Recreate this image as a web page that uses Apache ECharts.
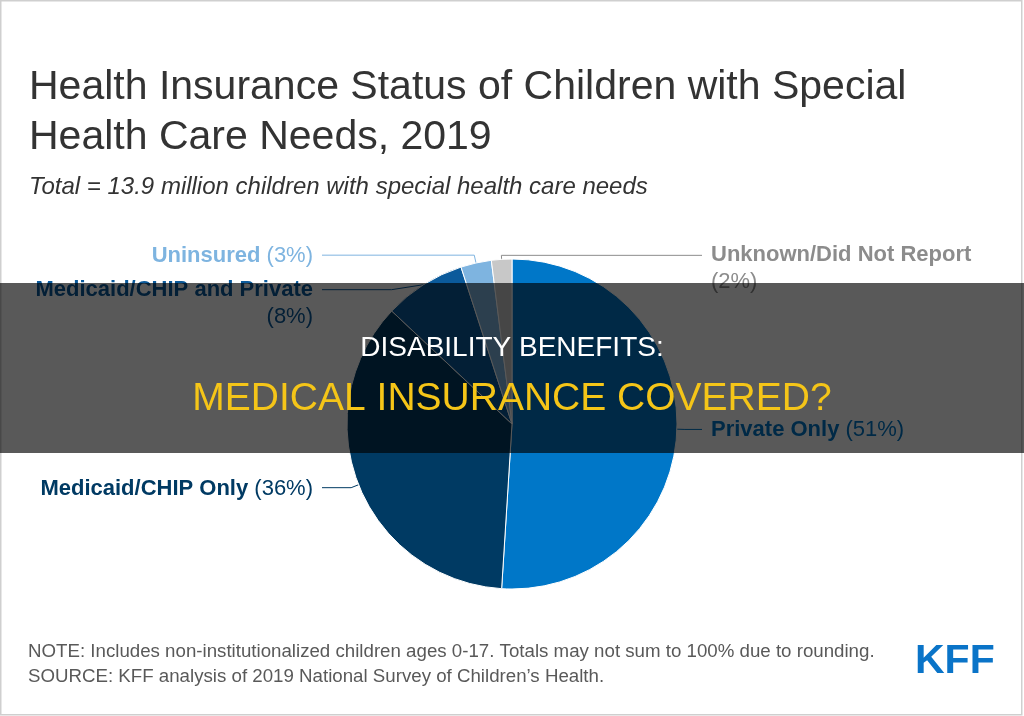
<!DOCTYPE html>
<html>
<head>
<meta charset="utf-8">
<title>Health Insurance Status of Children with Special Health Care Needs, 2019</title>
<script src="https://cdn.jsdelivr.net/npm/echarts/dist/echarts.min.js"></script>
<style>
  html, body { margin: 0; padding: 0; background: #fff; }
  #main { width: 1024px; height: 716px; }
</style>
</head>
<body>
<div id="main"></div>
<script>
// chart data
var categories = ['Private Only', 'Medicaid/CHIP Only', 'Medicaid/CHIP and Private', 'Uninsured', 'Unknown/Did Not Report'];
var shares = [51, 36, 8, 3, 2];
var sliceColors = ['#0077c8', '#003a63', '#0b5a9b', '#7eb4e0', '#c8c8c8'];
var labelColors = ['#0077c8', '#003a63', '#0b5a9b', '#7eb4e0', '#8c8c8c'];

// label placement rules
var rightSide = ['Private Only', 'Unknown/Did Not Report'];
var twoLine = ['Medicaid/CHIP and Private', 'Unknown/Did Not Report'];

var FONT = '"Liberation Sans", Arial, sans-serif';
var CX = 512, CY = 424, R = 165;
var LINE_GAP = 25, TEXT_GAP = 9, LH = 27;

var rich = {};
labelColors.forEach(function (c, i) {
    rich['c' + i + 'b'] = { color: c, fontWeight: 'bold', fontSize: 22, lineHeight: LH, fontFamily: FONT };
    rich['c' + i] = { color: c, fontSize: 22, lineHeight: LH, fontFamily: FONT };
});

var pieData = categories.map(function (name, i) {
    return {
        name: name,
        value: shares[i],
        itemStyle: { color: sliceColors[i] },
        labelLine: {
            length: name === 'Unknown/Did Not Report' ? 4 : 8,
            lineStyle: { color: labelColors[i] }
        }
    };
});

var myChart = echarts.init(document.getElementById('main'), null, { renderer: 'canvas' });

var option = {
    animation: false,
    backgroundColor: '#fff',
    title: {
        text: 'Health Insurance Status of Children with Special\nHealth Care Needs, 2019',
        subtext: 'Total = 13.9 million children with special health care needs',
        left: 29,
        top: 63,
        padding: 0,
        itemGap: 10,
        textStyle: { fontFamily: FONT, fontSize: 41, fontWeight: 'normal', color: '#333', lineHeight: 50 },
        subtextStyle: { fontFamily: FONT, fontSize: 24, fontStyle: 'italic', color: '#333', lineHeight: 28 }
    },
    series: [{
        type: 'pie',
        center: [CX, CY],
        radius: R,
        startAngle: 90,
        clockwise: true,
        silent: true,
        avoidLabelOverlap: false,
        minShowLabelAngle: 0,
        itemStyle: { borderColor: '#fff', borderWidth: 1 },
        label: {
            show: true,
            position: 'outside',
            fontFamily: FONT,
            fontSize: 22,
            formatter: function (p) {
                var sep = twoLine.indexOf(p.name) >= 0 ? '\n' : ' ';
                return '{c' + p.dataIndex + 'b|' + p.name + '}' + sep + '{c' + p.dataIndex + '|(' + p.value + '%)}';
            },
            rich: rich
        },
        labelLine: { show: true, length: 8, length2: 10, lineStyle: { width: 1 } },
        labelLayout: function (p) {
            var pts = p.labelLinePoints;
            if (!pts) return {};
            var name = categories[p.dataIndex];
            var right = rightSide.indexOf(name) >= 0;
            var p0 = [pts[0][0], pts[0][1]];
            var p1 = [pts[1][0], pts[1][1]];
            if (name === 'Medicaid/CHIP and Private') {
                // elbow drops below the slice edge
                p1 = [p0[0] - 32, p0[1] + 5];
            }
            var lineY = p1[1];
            var lineX = right ? CX + R + LINE_GAP : CX - R - LINE_GAP;
            var multi = twoLine.indexOf(name) >= 0;
            return {
                x: right ? lineX + TEXT_GAP : lineX - TEXT_GAP,
                y: multi ? lineY - LH / 2 : lineY + 1,
                align: right ? 'left' : 'right',
                verticalAlign: multi ? 'top' : 'middle',
                labelLinePoints: [p0, p1, [lineX, lineY]]
            };
        },
        emphasis: { disabled: true },
        data: pieData
    }],
    graphic: [
        {
            type: 'rect', z: 1,
            shape: { x: 0.75, y: 0.75, width: 1021, height: 714 },
            style: { fill: 'none', stroke: '#cfcfcf', lineWidth: 1.5 }
        },
        {
            type: 'text', x: 28, y: 652, z: 1,
            style: { text: 'NOTE: Includes non-institutionalized children ages 0-17. Totals may not sum to 100% due to rounding.', font: '18.7px ' + FONT, fill: '#595959', verticalAlign: 'middle' }
        },
        {
            type: 'text', x: 28, y: 677, z: 1,
            style: { text: 'SOURCE: KFF analysis of 2019 National Survey of Children\u2019s Health.', font: '18.7px ' + FONT, fill: '#595959', verticalAlign: 'middle' }
        },
        {
            type: 'text', x: 915, y: 662, z: 1,
            style: { text: 'KFF', font: 'bold 41px ' + FONT, fill: '#0a74c8', verticalAlign: 'middle' }
        },
        {
            type: 'rect', z: 100,
            shape: { x: 0, y: 283, width: 1024, height: 170 },
            style: { fill: 'rgba(0,0,0,0.65)' }
        },
        {
            type: 'text', x: 512, y: 348, z: 101,
            style: { text: 'DISABILITY BENEFITS:', font: '28px ' + FONT, fill: '#ffffff', align: 'center', verticalAlign: 'middle' }
        },
        {
            type: 'text', x: 512, y: 399, z: 101,
            style: { text: 'MEDICAL INSURANCE COVERED?', font: '39px ' + FONT, fill: '#f5c518', align: 'center', verticalAlign: 'middle' }
        }
    ]
};

myChart.setOption(option);
</script>
</body>
</html>
